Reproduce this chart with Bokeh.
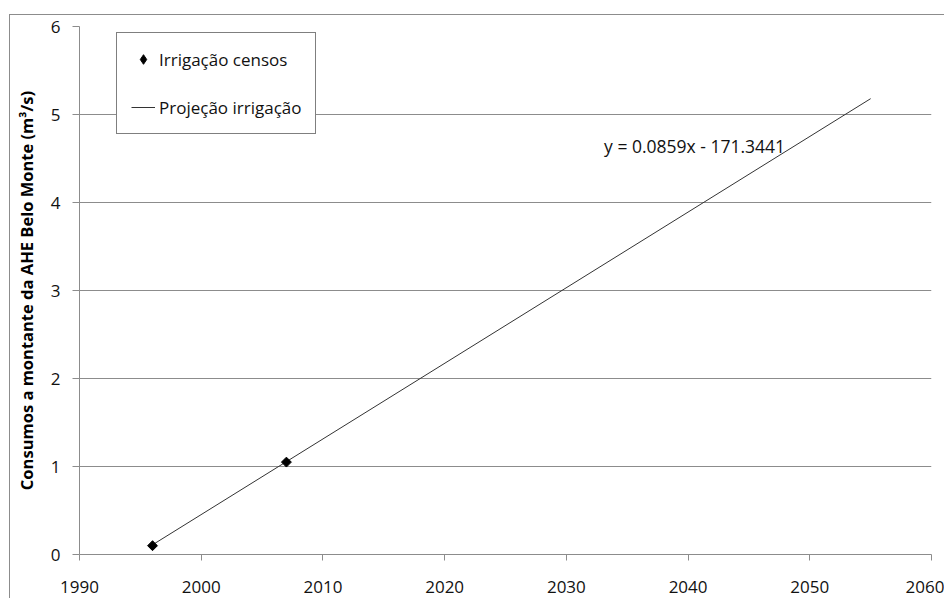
import math
from bokeh.plotting import figure
from bokeh.models import Range1d, Legend, LegendItem, Label, FixedTicker
from bokeh.embed import file_html
from bokeh.resources import INLINE

# ---- data ----
census_years = [1996, 2007]
census_values = [0.10, 1.05]
proj_years = [1996, 2055]
proj_values = [0.11, 5.18]
x_ticks = [1990, 2000, 2010, 2020, 2030, 2040, 2050, 2060]
y_ticks = [0, 1, 2, 3, 4, 5, 6]
equation = "y = 0.0859x - 171.3441"
eq_pos = (2033.1, 4.64)
y_title = "Consumos a montante da AHE Belo Monte (m³/s)"
legend_labels = ["Irrigação censos", "Projeção irrigação"]

FONT = "Open Sans"
GRID = "#8c8c8c"

p = figure(width=944, height=598, output_backend="svg", toolbar_location=None,
           x_range=Range1d(1990, 2060), y_range=Range1d(0, 6),
           min_border_left=79, min_border_right=13, min_border_top=26,
           min_border_bottom=44)
p.outline_line_color = None
p.background_fill_color = "white"
p.border_fill_alpha = 0
# outer chart-area border drawn behind the transparent canvas border
p.styles = {
    "background": (
        "linear-gradient(#8c8c8c,#8c8c8c) 9px 14px / 1px 100% no-repeat, "
        "linear-gradient(#8c8c8c,#8c8c8c) 9px 14px / 100% 1px no-repeat, "
        "white"
    )
}

# gridlines
p.xgrid.grid_line_color = None
p.ygrid.grid_line_color = GRID
p.ygrid.grid_line_width = 1

# axes
for ax in (p.xaxis[0], p.yaxis[0]):
    ax.axis_line_color = GRID
    ax.major_tick_line_color = GRID
    ax.minor_tick_line_color = None
    ax.major_tick_in = 0
    ax.major_label_text_font = FONT
    ax.major_label_text_font_size = "17px"
    ax.major_label_text_color = "#111111"

p.xaxis[0].ticker = FixedTicker(ticks=x_ticks)
p.yaxis[0].ticker = FixedTicker(ticks=y_ticks)
p.xaxis[0].major_tick_out = 6
p.yaxis[0].major_tick_out = 7
p.xaxis[0].major_label_standoff = 20
p.yaxis[0].major_label_standoff = 12

p.yaxis[0].axis_label = y_title
p.yaxis[0].axis_label_text_font = FONT
p.yaxis[0].axis_label_text_font_size = "16.5px"
p.yaxis[0].axis_label_text_font_style = "bold"
p.yaxis[0].axis_label_text_color = "#000000"
p.yaxis[0].axis_label_standoff = 10

# series
r_line = p.line(proj_years, proj_values, line_color="#333333", line_width=1)
r_pts = p.scatter(census_years, census_values, marker="square", size=7,
                  angle=math.pi / 4, fill_color="black", line_color="black")

# legend swatch renderer: same census data, zero size on the chart (so it is
# invisible there); the legend draws its own diamond sized from glyph box
r_swatch = p.scatter(census_years, census_values, marker="diamond", size=0,
                     fill_color="black", line_color="black")

# equation label
p.add_layout(Label(x=eq_pos[0], y=eq_pos[1], text=equation,
                   text_font=FONT, text_font_size="17.5px",
                   text_color="#111111", text_baseline="alphabetic"))

legend = Legend(items=[LegendItem(label=legend_labels[0], renderers=[r_swatch]),
                       LegendItem(label=legend_labels[1], renderers=[r_line])],
                location=(37, 420), orientation="vertical")
legend.border_line_color = "#000000"
legend.border_line_width = 1
legend.background_fill_color = "white"
legend.background_fill_alpha = 1
legend.label_text_font = FONT
legend.label_text_font_size = "17px"
legend.label_text_color = "#111111"
legend.glyph_width = 24
legend.glyph_height = 24
legend.label_height = 20
legend.label_standoff = 4
legend.spacing = 24
legend.padding = 14
legend.margin = 0
p.add_layout(legend)

open("out.html", "w").write(file_html(p, INLINE))
